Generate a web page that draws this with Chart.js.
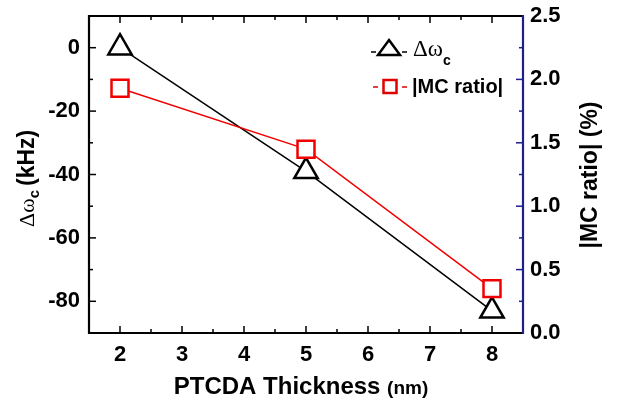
<!DOCTYPE html>
<html>
<head>
<meta charset="utf-8">
<script src="https://cdn.jsdelivr.net/npm/chart.js@4.4.1/dist/chart.umd.min.js"></script>
<style>
  html, body { margin: 0; padding: 0; background: #fff; }
  canvas { display: block; }
</style>
</head>
<body>
<canvas id="chart" width="618" height="404"></canvas>
<script>
// data
const thickness = [2, 5, 8];
const deltaOmega = [0, -39, -83];       // kHz, left axis
const mcRatio = [1.93, 1.45, 0.35];     // %, right axis

const xTicks = [2, 3, 4, 5, 6, 7, 8];
const leftTicks = [-80, -60, -40, -20, 0];
const rightTicks = [0, 0.5, 1.0, 1.5, 2.0, 2.5];

const SANS = "'Liberation Sans', Arial, sans-serif";
const SERIF = "'Liberation Serif', 'Times New Roman', serif";
const NAVY = "#1e1e8c";

// inward ticks, frame, titles and legend
const decor = {
  id: "decor",
  beforeDatasetsDraw(chart) {
    const ctx = chart.ctx;
    const a = chart.chartArea;
    const sx = chart.scales.x, sy = chart.scales.y, sy1 = chart.scales.y1;
    ctx.save();
    ctx.lineWidth = 1.5;
    ctx.strokeStyle = "#000";
    // x ticks bottom and top, every 0.5
    for (let v = 2; v <= 8; v += 0.5) {
      const px = sx.getPixelForValue(v);
      const len = Number.isInteger(v) ? 7 : 4;
      ctx.beginPath();
      ctx.moveTo(px, a.bottom); ctx.lineTo(px, a.bottom - len);
      ctx.moveTo(px, a.top); ctx.lineTo(px, a.top + len);
      ctx.stroke();
    }
    // left ticks, every 10
    for (let v = -80; v <= 0; v += 10) {
      const py = sy.getPixelForValue(v);
      const len = v % 20 === 0 ? 7 : 4;
      ctx.beginPath();
      ctx.moveTo(a.left, py); ctx.lineTo(a.left + len, py);
      ctx.stroke();
    }
    // right ticks, every 0.25
    ctx.strokeStyle = NAVY;
    for (let i = 1; i < 10; i++) {
      const v = i * 0.25;
      const py = sy1.getPixelForValue(v);
      const len = i % 2 === 0 ? 7 : 4;
      ctx.beginPath();
      ctx.moveTo(a.right, py); ctx.lineTo(a.right - len, py);
      ctx.stroke();
    }
    ctx.restore();
  },
  afterDraw(chart) {
    const ctx = chart.ctx;
    const a = chart.chartArea;
    ctx.save();
    // frame
    ctx.lineWidth = 2.2;
    ctx.strokeStyle = "#000";
    ctx.beginPath();
    ctx.moveTo(a.right, a.top); ctx.lineTo(a.left, a.top);
    ctx.lineTo(a.left, a.bottom); ctx.lineTo(a.right, a.bottom);
    ctx.stroke();
    ctx.strokeStyle = NAVY;
    ctx.beginPath();
    ctx.moveTo(a.right, a.top - 1); ctx.lineTo(a.right, a.bottom + 1);
    ctx.stroke();

    ctx.fillStyle = "#000";
    ctx.textBaseline = "alphabetic";
    ctx.textAlign = "left";

    // x title
    const t1 = "PTCDA Thickness ", t2 = "(nm)";
    ctx.font = "bold 24px " + SANS;
    const w1 = ctx.measureText(t1).width;
    ctx.font = "bold 19px " + SANS;
    const w2 = ctx.measureText(t2).width;
    let x0 = 301 - (w1 + w2) / 2;
    ctx.font = "bold 24px " + SANS;
    ctx.fillText(t1, x0, 394);
    ctx.font = "bold 19px " + SANS;
    ctx.fillText(t2, x0 + w1, 394);

    // left title, reading bottom to top
    ctx.save();
    ctx.translate(34, 227);
    ctx.rotate(-Math.PI / 2);
    ctx.font = "22px " + SERIF;
    ctx.fillText("\u0394\u03c9", 0, 0);
    let w = ctx.measureText("\u0394\u03c9").width;
    ctx.font = "bold 15px " + SANS;
    ctx.fillText("c", w, 5);
    w += ctx.measureText("c").width + 4;
    ctx.font = "bold 23px " + SANS;
    ctx.fillText("(kHz)", w, 0);
    ctx.restore();

    // right title
    ctx.save();
    ctx.translate(597, 175);
    ctx.rotate(-Math.PI / 2);
    ctx.textAlign = "center";
    ctx.font = "bold 23px " + SANS;
    ctx.fillText("|MC ratio| (%)", 0, 0);
    ctx.restore();

    // legend
    ctx.lineWidth = 1.5;
    ctx.strokeStyle = "#000";
    ctx.beginPath();
    ctx.moveTo(371, 52); ctx.lineTo(376, 52);
    ctx.moveTo(402, 52); ctx.lineTo(407, 52);
    ctx.stroke();
    ctx.lineWidth = 2.5;
    ctx.beginPath();
    ctx.moveTo(389, 40); ctx.lineTo(400, 55); ctx.lineTo(378, 55); ctx.closePath();
    ctx.stroke();
    ctx.font = "23px " + SERIF;
    ctx.fillText("\u0394\u03c9", 413, 56);
    const lw = ctx.measureText("\u0394\u03c9").width;
    ctx.font = "bold 14px " + SANS;
    ctx.fillText("c", 413 + lw, 65);

    ctx.strokeStyle = "#e00000";
    ctx.lineWidth = 1.5;
    ctx.beginPath();
    ctx.moveTo(373, 87); ctx.lineTo(378, 87);
    ctx.moveTo(402, 87); ctx.lineTo(407, 87);
    ctx.stroke();
    ctx.lineWidth = 2.5;
    ctx.strokeRect(383.5, 80, 13, 13);
    ctx.font = "bold 20px " + SANS;
    ctx.fillText("|MC ratio|", 412, 93);
    ctx.restore();
  }
};

const noPad = s => { s.paddingTop = 0; s.paddingBottom = 0; s.paddingLeft = 0; s.paddingRight = 0; };

const config = {
  type: "line",
  data: {
    datasets: [
      {
        label: "|MC ratio|",
        data: thickness.map((t, i) => ({ x: t, y: mcRatio[i] })),
        yAxisID: "y1",
        borderColor: "#f00000",
        borderWidth: 1.5,
        pointStyle: "rect",
        pointRadius: 12,
        pointBorderWidth: 2.5,
        pointBackgroundColor: "#fff",
        pointBorderColor: "#f00000"
      },
      {
        label: "\u0394\u03c9c",
        data: thickness.map((t, i) => ({ x: t, y: deltaOmega[i] })),
        yAxisID: "y",
        borderColor: "#000",
        borderWidth: 1.5,
        pointStyle: "triangle",
        pointRadius: 13.5,
        pointBorderWidth: 2.5,
        pointBackgroundColor: "#fff",
        pointBorderColor: "#000"
      }
    ]
  },
  options: {
    responsive: false,
    animation: false,
    layout: { padding: { top: 13, left: 0, right: 0, bottom: 0 } },
    plugins: { legend: { display: false }, tooltip: { enabled: false } },
    scales: {
      x: {
        type: "linear",
        min: 1.5, max: 8.5,
        grid: { display: false, drawTicks: false },
        border: { display: false },
        afterBuildTicks: s => { s.ticks = xTicks.map(v => ({ value: v })); },
        afterFit: s => { s.height = 71; noPad(s); },
        ticks: { padding: 9, color: "#000", maxRotation: 0, font: { family: SANS, weight: "bold", size: 22 } }
      },
      y: {
        position: "left",
        min: -90, max: 10,
        grid: { display: false, drawTicks: false },
        border: { display: false },
        afterBuildTicks: s => { s.ticks = leftTicks.map(v => ({ value: v })); },
        afterFit: s => { s.width = 89; noPad(s); },
        ticks: { padding: 9, color: "#000", font: { family: SANS, weight: "bold", size: 22 } }
      },
      y1: {
        position: "right",
        min: 0, max: 2.5,
        grid: { display: false, drawTicks: false },
        border: { display: false },
        afterBuildTicks: s => { s.ticks = rightTicks.map(v => ({ value: v })); },
        afterFit: s => { s.width = 95; noPad(s); },
        ticks: { padding: 7, color: "#000", callback: v => Number(v).toFixed(1), font: { family: SANS, weight: "bold", size: 22 } }
      }
    }
  },
  plugins: [decor]
};

const myChart = new Chart(document.getElementById("chart"), config);
</script>
</body>
</html>
